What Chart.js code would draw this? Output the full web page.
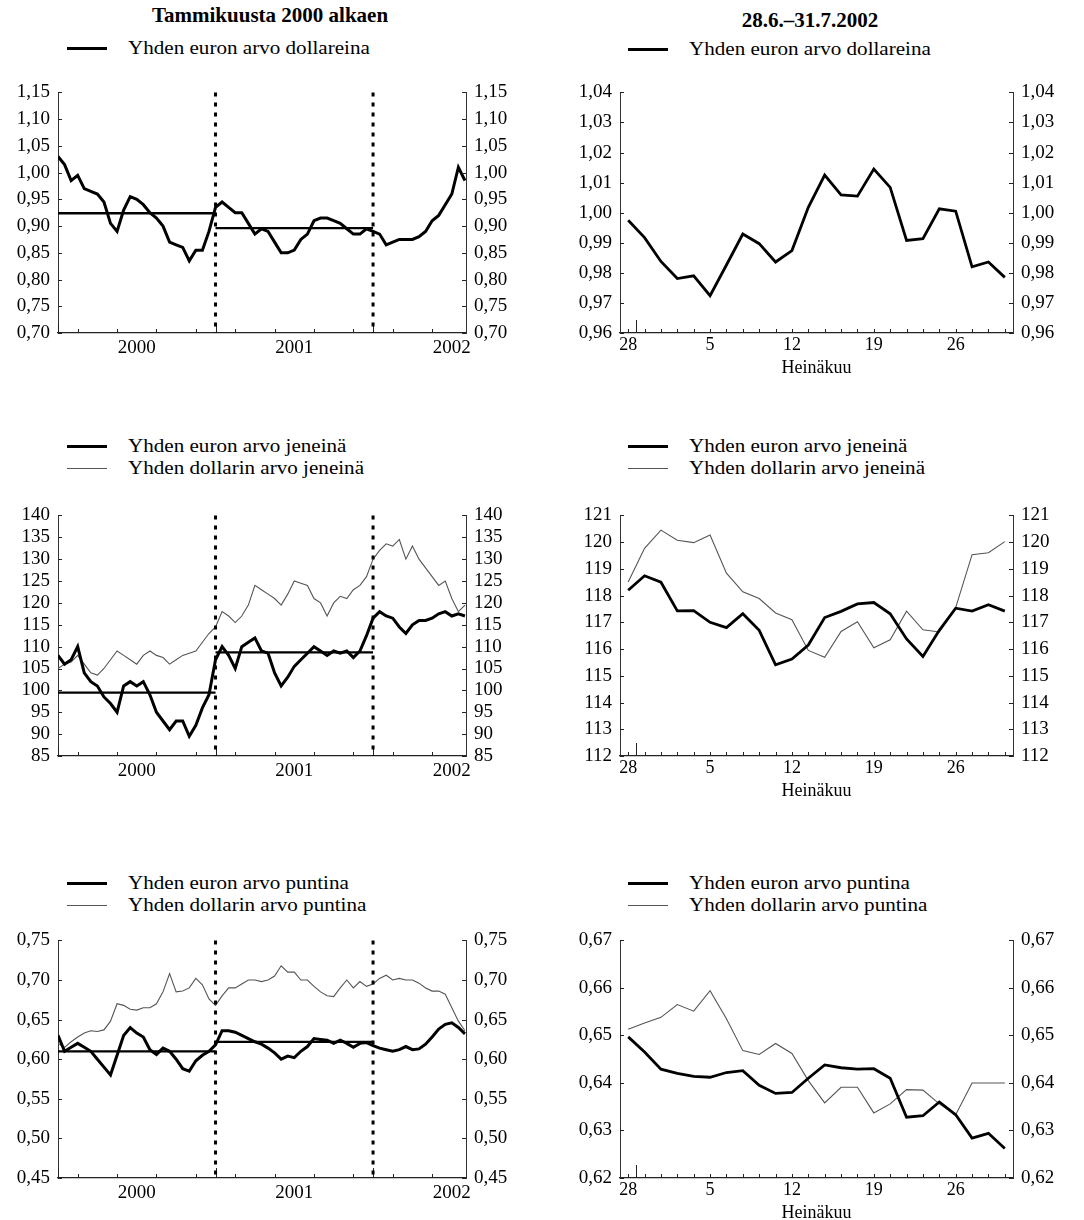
<!DOCTYPE html>
<html lang="fi">

<head>
    <meta charset="UTF-8">
    <script src="https://cdn.jsdelivr.net/npm/chart.js"></script>
    <title>Euron arvo</title>
    <style>
        body {
            margin: 0;
            background: #fff;
            overflow: hidden;
            font-family: "Liberation Serif", "Times New Roman", serif;
            color: #000;
        }

        #sivu {
            position: relative;
            width: 1084px;
            height: 1220px;
        }

        .otsikko {
            position: absolute;
            font-weight: bold;
            font-size: 21px;
            line-height: 24px;
            white-space: nowrap;
            transform: translateX(-50%);
        }

        .selite {
            position: absolute;
            height: 22px;
            line-height: 22px;
            font-size: 19px;
            white-space: nowrap;
        }

        .selite .viiva {
            position: absolute;
            left: 0;
            width: 40px;
        }

        .selite .teksti {
            position: absolute;
            left: 61px;
            display: inline-block;
            transform: scaleX(1.11);
            transform-origin: left center;
        }

        .kaavio {
            position: absolute;
        }
    </style>
</head>

<body>
    <div id="sivu">
        <div class="otsikko" style="left:270px; top:3px;">Tammikuusta 2000 alkaen</div>
        <div class="otsikko" style="left:810px; top:8px;">28.6.–31.7.2002</div>

        <div class="kaavio" style="left:0; top:73px; width:530px; height:300px;"><canvas id="usdPitka"></canvas></div>
        <div class="kaavio" style="left:540px; top:73px; width:544px; height:306px;"><canvas id="usdLyhyt"></canvas></div>
        <div class="kaavio" style="left:0; top:496px; width:530px; height:300px;"><canvas id="jpyPitka"></canvas></div>
        <div class="kaavio" style="left:540px; top:496px; width:544px; height:306px;"><canvas id="jpyLyhyt"></canvas></div>
        <div class="kaavio" style="left:0; top:921px; width:530px; height:297px;"><canvas id="gbpPitka"></canvas></div>
        <div class="kaavio" style="left:540px; top:921px; width:544px; height:303px;"><canvas id="gbpLyhyt"></canvas></div>
    </div>
    <script>
        // pitkät sarjat: puolen kuukauden välein tammikuusta 2000 heinäkuun 2002 loppuun
        const vuodet = [2000, 2001, 2002];
        const ajankohdat = Array.from({ length: 63 }, (_, i) => 2000 + i / 24);

        const eurUsd = [1.030, 1.015, 0.985, 0.995, 0.970, 0.965, 0.960, 0.945, 0.905, 0.890, 0.930, 0.955, 0.950, 0.940, 0.925,
            0.915, 0.900, 0.870, 0.865, 0.860, 0.835, 0.855, 0.855, 0.890, 0.935,
            0.945, 0.935, 0.925, 0.925, 0.905, 0.885, 0.895, 0.890, 0.870, 0.850, 0.850, 0.855, 0.875, 0.885, 0.910,
            0.915, 0.915, 0.910, 0.905, 0.895, 0.885, 0.885, 0.895, 0.890,
            0.885, 0.865, 0.870, 0.875, 0.875, 0.875, 0.880, 0.890, 0.910, 0.920, 0.940, 0.960, 1.010, 0.985];
        const eurJpy = [108, 106, 107, 110, 104, 102, 101, 98.5, 97, 95, 101, 102, 101, 102, 99, 95, 93, 91, 93, 93, 89.5, 92, 96, 99, 107,
            110, 108, 105, 110, 111, 112, 109, 108.5, 104, 101, 103, 105.5, 107, 108.5, 110, 109, 108, 109, 108.5, 109, 107.5, 109, 112.5, 116.5,
            118, 117, 116.5, 114.5, 113, 115, 116, 116, 116.5, 117.5, 118, 117, 117.5, 117];
        const usdJpy = [105, 106, 106.5, 108, 106, 104, 103.5, 105, 107, 109, 108, 107, 106, 108, 109, 108, 107.5, 106, 107, 108, 108.5, 109, 111, 113, 114.5,
            118, 117, 115.5, 117, 119.5, 124, 123, 122, 121, 119.5, 122, 125, 124.5, 124, 121, 120, 117, 120, 121.5, 121, 123, 124, 126, 130,
            132, 133.5, 133, 134.5, 130, 133, 130, 128, 126, 124, 125, 121, 118, 119.5];
        const eurGbp = [0.630, 0.610, 0.615, 0.620, 0.615, 0.610, 0.600, 0.590, 0.580, 0.605, 0.630, 0.640, 0.633, 0.628, 0.612,
            0.606, 0.614, 0.610, 0.600, 0.588, 0.585, 0.598, 0.605, 0.610, 0.618,
            0.636, 0.636, 0.634, 0.630, 0.626, 0.622, 0.619, 0.614, 0.608, 0.600, 0.604, 0.602, 0.610, 0.616, 0.626,
            0.625, 0.624, 0.620, 0.624, 0.620, 0.615, 0.620, 0.621, 0.617,
            0.614, 0.612, 0.610, 0.612, 0.616, 0.612, 0.613, 0.619, 0.628, 0.638, 0.644, 0.646, 0.640, 0.632];
        const usdGbp = [0.620, 0.615, 0.622, 0.628, 0.633, 0.636, 0.635, 0.637, 0.648, 0.670, 0.668, 0.663, 0.662, 0.665, 0.665,
            0.670, 0.685, 0.708, 0.685, 0.686, 0.690, 0.702, 0.694, 0.676, 0.668,
            0.680, 0.690, 0.690, 0.695, 0.700, 0.700, 0.698, 0.700, 0.705, 0.718, 0.710, 0.710, 0.700, 0.700, 0.692,
            0.685, 0.680, 0.679, 0.690, 0.700, 0.690, 0.698, 0.692, 0.695,
            0.702, 0.706, 0.700, 0.702, 0.700, 0.700, 0.696, 0.690, 0.686, 0.686, 0.682, 0.665, 0.648, 0.636];

        // vuosikeskiarvot 2000 ja 2001
        const kaEurUsd = [0.924, 0.896];
        const kaEurJpy = [99.5, 108.7];
        const kaEurGbp = [0.610, 0.622];

        // heinäkuu 2002, pankkipäivät
        const paivat = ['28', '1', '2', '3', '4', '5', '8', '9', '10', '11', '12', '15', '16', '17', '18', '19',
            '22', '23', '24', '25', '26', '29', '30', '31'];
        const naytetytPaivat = ['28', '5', '12', '19', '26'];

        const eurUsdH = [0.9975, 0.9917, 0.9838, 0.9781, 0.9790, 0.9724, 0.9826, 0.9929, 0.9897, 0.9836, 0.9874, 1.0018,
            1.0125, 1.0059, 1.0055, 1.0145, 1.0084, 0.9908, 0.9914, 1.0013, 1.0005, 0.9820, 0.9836, 0.9785];
        const eurJpyH = [118.20, 118.74, 118.50, 117.43, 117.44, 117.00, 116.80, 117.32, 116.70, 115.41, 115.63, 116.15,
            117.18, 117.41, 117.69, 117.74, 117.32, 116.38, 115.72, 116.70, 117.53, 117.42, 117.66, 117.42];
        const usdJpyH = [118.51, 119.77, 120.45, 120.07, 119.98, 120.27, 118.84, 118.14, 117.89, 117.35, 117.10, 115.95,
            115.69, 116.66, 117.02, 116.05, 116.35, 117.42, 116.72, 116.64, 117.55, 119.53, 119.60, 120.02];
        const eurGbpH = [0.6497, 0.6465, 0.6429, 0.6420, 0.6414, 0.6412, 0.6422, 0.6426, 0.6395, 0.6378, 0.6380, 0.6410,
            0.6438, 0.6432, 0.6429, 0.6430, 0.6410, 0.6328, 0.6331, 0.6360, 0.6333, 0.6284, 0.6294, 0.6262];
        const usdGbpH = [0.6513, 0.6526, 0.6538, 0.6565, 0.6551, 0.6594, 0.6535, 0.6468, 0.6460, 0.6483, 0.6462, 0.6405,
            0.6358, 0.6391, 0.6391, 0.6337, 0.6356, 0.6386, 0.6385, 0.6356, 0.6333, 0.6400, 0.6400, 0.6400];

        // y-akselien tikit
        const tikitUsd = [0.70, 0.75, 0.80, 0.85, 0.90, 0.95, 1.00, 1.05, 1.10, 1.15];
        const tikitJpy = [85, 90, 95, 100, 105, 110, 115, 120, 125, 130, 135, 140];
        const tikitGbp = [0.45, 0.50, 0.55, 0.60, 0.65, 0.70, 0.75];
        const tikitUsdH = [0.96, 0.97, 0.98, 0.99, 1.00, 1.01, 1.02, 1.03, 1.04];
        const tikitJpyH = [112, 113, 114, 115, 116, 117, 118, 119, 120, 121];
        const tikitGbpH = [0.62, 0.63, 0.64, 0.65, 0.66, 0.67];

        const euroNimi = {
            usd: 'Yhden euron arvo dollareina',
            jpy: 'Yhden euron arvo jeneinä',
            gbp: 'Yhden euron arvo puntina'
        };
        const dollariNimi = {
            jpy: 'Yhden dollarin arvo jeneinä',
            gbp: 'Yhden dollarin arvo puntina'
        };

        const PAKSU = { vari: '#000', paksuus: 2.8 };
        const PAKSU_PITKA = { vari: '#000', paksuus: 3 };
        const OHUT = { vari: '#555', paksuus: 1.1 };

        Chart.defaults.font.family = '"Liberation Serif", "Times New Roman", serif';
        Chart.defaults.font.size = 19;
        Chart.defaults.color = '#000';
        Chart.defaults.animation = false;

        // tikit piirretään kuvan sisäpuolelle, pisteviivat vuodenvaihteisiin
        const sisaTikit = {
            id: 'sisaTikit',
            afterDraw(chart, args, opts) {
                const ctx = chart.ctx;
                const a = chart.chartArea;
                const y = chart.scales.y;
                const x = chart.scales.x;
                ctx.save();
                ctx.strokeStyle = '#222';
                ctx.lineWidth = 1;
                ctx.beginPath();
                y.ticks.forEach(t => {
                    const py = Math.round(y.getPixelForValue(t.value)) + 0.5;
                    ctx.moveTo(a.left, py);
                    ctx.lineTo(a.left + 4, py);
                    ctx.moveTo(a.right, py);
                    ctx.lineTo(a.right - 4, py);
                });
                (opts.lyhyet || []).forEach(v => {
                    const px = Math.round(x.getPixelForValue(v)) + 0.5;
                    ctx.moveTo(px, a.bottom);
                    ctx.lineTo(px, a.bottom - 4);
                });
                (opts.pitkat || []).forEach(v => {
                    const px = Math.round(x.getPixelForValue(v)) + 0.5;
                    ctx.moveTo(px, a.bottom);
                    ctx.lineTo(px, a.bottom - opts.pituus);
                });
                ctx.stroke();
                if (opts.pisteviivat) {
                    ctx.strokeStyle = '#000';
                    ctx.lineWidth = 3;
                    ctx.setLineDash([4, 6]);
                    ctx.beginPath();
                    opts.pisteviivat.forEach(v => {
                        const px = x.getPixelForValue(v);
                        ctx.moveTo(px, a.top);
                        ctx.lineTo(px, a.bottom);
                    });
                    ctx.stroke();
                }
                ctx.restore();
            }
        };

        function pilkku(des) {
            return v => Number(v).toFixed(des).replace('.', ',');
        }

        function yAkselit(tikit, des, vasen, oikea) {
            const yhteinen = {
                min: tikit[0],
                max: tikit[tikit.length - 1],
                grid: { display: false, drawTicks: false },
                border: { color: '#333', width: 1 },
                afterBuildTicks: s => { s.ticks = tikit.map(v => ({ value: v })); },
                ticks: { callback: pilkku(des), padding: 8, autoSkip: false }
            };
            return {
                y: { ...yhteinen, position: 'left', afterFit: s => { s.width = vasen; } },
                y2: { ...yhteinen, position: 'right', afterFit: s => { s.width = oikea; } }
            };
        }

        function viivaSarja(nimi, data, tyyli) {
            return {
                label: nimi,
                data: data,
                borderColor: tyyli.vari,
                borderWidth: tyyli.paksuus,
                pointRadius: 0,
                tension: 0,
                fill: false
            };
        }

        function pitkaKuva(id, sarjat, keskiarvot, tikit, des) {
            const datasets = [];
            keskiarvot.forEach((k, j) => {
                datasets.push(viivaSarja('Keskiarvo ' + vuodet[j],
                    [{ x: vuodet[j], y: k }, { x: vuodet[j] + 1, y: k }], { vari: '#000', paksuus: 2.3 }));
            });
            sarjat.forEach(s => {
                const tyyli = s.tyyli === PAKSU ? PAKSU_PITKA : s.tyyli;
                datasets.push(viivaSarja(s.nimi, s.arvot.map((v, i) => ({ x: ajankohdat[i], y: v })), tyyli));
            });
            const lyhyet = [];
            for (let v = 2000.125; v < 2002.59; v += 0.25) lyhyet.push(v);
            new Chart(document.getElementById(id), {
                type: 'line',
                data: { datasets: datasets },
                options: {
                    responsive: true,
                    maintainAspectRatio: false,
                    layout: { padding: { top: 14, left: 0, right: 0, bottom: 0 } },
                    plugins: {
                        legend: { display: false },
                        tooltip: { enabled: false },
                        sisaTikit: { lyhyet: lyhyet, pitkat: vuodet, pituus: 10, pisteviivat: [2001, 2002] }
                    },
                    scales: {
                        x: {
                            type: 'linear',
                            min: 2000,
                            max: 2002.59,
                            grid: { display: false, drawTicks: false },
                            border: { color: '#222', width: 1.3 },
                            afterBuildTicks: s => { s.ticks = vuodet.map(v => ({ value: v + 0.5 })); },
                            ticks: { callback: v => String(Math.floor(v)), padding: 4, maxRotation: 0, autoSkip: false },
                            afterFit: s => { s.height = 40; }
                        },
                        ...yAkselit(tikit, des, 58, 64)
                    }
                },
                plugins: [sisaTikit]
            });
        }

        function lyhytKuva(id, sarjat, tikit, des) {
            const datasets = sarjat.map(s => viivaSarja(s.nimi, s.arvot, s.tyyli));
            new Chart(document.getElementById(id), {
                type: 'line',
                data: { labels: paivat, datasets: datasets },
                options: {
                    responsive: true,
                    maintainAspectRatio: false,
                    layout: { padding: { top: 14, left: 0, right: 0, bottom: 0 } },
                    plugins: {
                        legend: { display: false },
                        tooltip: { enabled: false },
                        sisaTikit: { lyhyet: paivat.map((p, i) => i), pitkat: [0.5], pituus: 13 }
                    },
                    scales: {
                        x: {
                            type: 'category',
                            offset: true,
                            grid: { display: false, drawTicks: false },
                            border: { color: '#222', width: 1.3 },
                            ticks: {
                                padding: 1,
                                maxRotation: 0,
                                autoSkip: false,
                                font: { size: 18 },
                                callback: function (v) {
                                    const p = this.getLabelForValue(v);
                                    return naytetytPaivat.includes(p) ? p : '';
                                }
                            },
                            title: { display: true, text: 'Heinäkuu', padding: { top: 1, bottom: 0 }, font: { size: 18 } },
                            afterFit: s => { s.height = 46; }
                        },
                        ...yAkselit(tikit, des, 80, 71)
                    }
                },
                plugins: [sisaTikit]
            });
        }

        function selite(vasen, ylä, sarjat) {
            const sivu = document.getElementById('sivu');
            sarjat.forEach((s, j) => {
                const rivi = document.createElement('div');
                rivi.className = 'selite';
                rivi.style.left = vasen + 'px';
                rivi.style.top = (ylä + j * 22) + 'px';
                const viiva = document.createElement('span');
                viiva.className = 'viiva';
                const h = s.tyyli.paksuus > 2 ? 3 : 1;
                viiva.style.height = h + 'px';
                viiva.style.top = (11 - h / 2) + 'px';
                viiva.style.background = s.tyyli.vari;
                const teksti = document.createElement('span');
                teksti.className = 'teksti';
                teksti.textContent = s.nimi;
                rivi.appendChild(viiva);
                rivi.appendChild(teksti);
                sivu.appendChild(rivi);
            });
        }

        const usdPitka = [{ nimi: euroNimi.usd, arvot: eurUsd, tyyli: PAKSU }];
        const jpyPitka = [{ nimi: euroNimi.jpy, arvot: eurJpy, tyyli: PAKSU }, { nimi: dollariNimi.jpy, arvot: usdJpy, tyyli: OHUT }];
        const gbpPitka = [{ nimi: euroNimi.gbp, arvot: eurGbp, tyyli: PAKSU }, { nimi: dollariNimi.gbp, arvot: usdGbp, tyyli: OHUT }];
        const usdLyhyt = [{ nimi: euroNimi.usd, arvot: eurUsdH, tyyli: PAKSU }];
        const jpyLyhyt = [{ nimi: euroNimi.jpy, arvot: eurJpyH, tyyli: PAKSU }, { nimi: dollariNimi.jpy, arvot: usdJpyH, tyyli: OHUT }];
        const gbpLyhyt = [{ nimi: euroNimi.gbp, arvot: eurGbpH, tyyli: PAKSU }, { nimi: dollariNimi.gbp, arvot: usdGbpH, tyyli: OHUT }];

        pitkaKuva('usdPitka', usdPitka, kaEurUsd, tikitUsd, 2);
        pitkaKuva('jpyPitka', jpyPitka, kaEurJpy, tikitJpy, 0);
        pitkaKuva('gbpPitka', gbpPitka, kaEurGbp, tikitGbp, 2);
        lyhytKuva('usdLyhyt', usdLyhyt, tikitUsdH, 2);
        lyhytKuva('jpyLyhyt', jpyLyhyt, tikitJpyH, 0);
        lyhytKuva('gbpLyhyt', gbpLyhyt, tikitGbpH, 2);

        selite(67, 37, usdPitka);
        selite(628, 38, usdLyhyt);
        selite(67, 435, jpyPitka);
        selite(628, 435, jpyLyhyt);
        selite(67, 872, gbpPitka);
        selite(628, 872, gbpLyhyt);
    </script>
</body>

</html>
